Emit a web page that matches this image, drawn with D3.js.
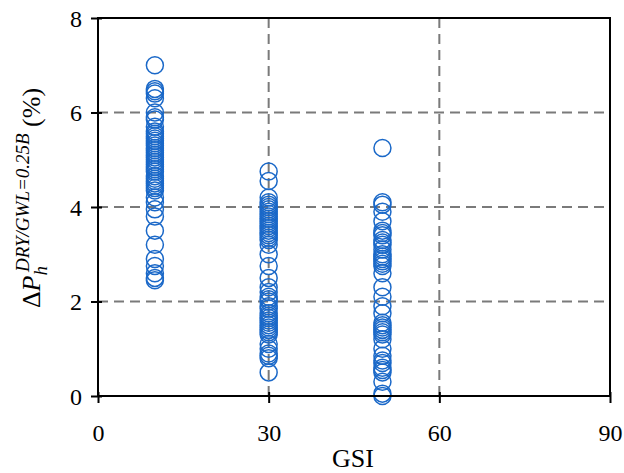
<!DOCTYPE html>
<html><head><meta charset="utf-8">
<script src="https://cdn.jsdelivr.net/npm/d3@7"></script>
<style>body{margin:0;background:#fff}svg{display:block}</style>
</head><body>
<svg id="c" width="624" height="473"></svg>
<script>
const xTicks = [0, 30, 60, 90];
const yTicks = [0, 2, 4, 6, 8];
const gsi10 = [7.0, 6.5, 6.45, 6.4, 6.3, 6.0, 5.9, 5.85, 5.7, 5.6, 5.55, 5.5, 5.45, 5.4, 5.35, 5.3, 5.25, 5.2, 5.15, 5.1, 5.05, 5.0, 4.95, 4.9, 4.85, 4.8, 4.75, 4.65, 4.6, 4.55, 4.5, 4.45, 4.4, 4.35, 4.2, 4.1, 3.95, 3.8, 3.5, 3.2, 2.9, 2.75, 2.6, 2.5, 2.45];
const gsi30 = [4.75, 4.55, 4.2, 4.1, 4.05, 4.0, 3.95, 3.9, 3.85, 3.8, 3.75, 3.7, 3.65, 3.6, 3.55, 3.5, 3.45, 3.4, 3.35, 3.3, 3.2, 3.0, 2.75, 2.5, 2.3, 2.2, 2.1, 2.05, 2.0, 1.9, 1.85, 1.75, 1.7, 1.65, 1.6, 1.55, 1.5, 1.45, 1.4, 1.35, 1.3, 1.1, 1.0, 0.9, 0.85, 0.8, 0.5];
const gsi50 = [5.25, 4.1, 4.05, 3.9, 3.7, 3.5, 3.45, 3.4, 3.3, 3.25, 3.2, 3.1, 3.0, 2.95, 2.9, 2.85, 2.8, 2.75, 2.6, 2.3, 2.1, 1.9, 1.75, 1.55, 1.5, 1.45, 1.4, 1.35, 1.3, 1.2, 1.0, 0.85, 0.75, 0.7, 0.6, 0.55, 0.5, 0.3, 0.05, 0.0];
const groups = [{gsi: 10, vals: gsi10}, {gsi: 30, vals: gsi30}, {gsi: 50, vals: gsi50}];

const svg = d3.select("#c");
const L = 98, R = 610, T = 18, B = 396;
const x = d3.scaleLinear().domain([0, 90]).range([L, R]);
const y = d3.scaleLinear().domain([0, 8]).range([B, T]);
const serif = "'Liberation Serif','Times New Roman',serif";

// grid
const g = svg.append("g");
g.selectAll("line.h").data(yTicks.filter(d => d > 0 && d < 8)).enter().append("line")
  .attr("x1", L).attr("x2", R).attr("y1", d => y(d)).attr("y2", d => y(d))
  .attr("stroke", "#7a7a7a").attr("stroke-width", 2).attr("stroke-dasharray", "10,6");
g.selectAll("line.v").data(xTicks.filter(d => d > 0 && d < 90)).enter().append("line")
  .attr("y1", T).attr("y2", B).attr("x1", d => x(d)).attr("x2", d => x(d))
  .attr("stroke", "#7a7a7a").attr("stroke-width", 2).attr("stroke-dasharray", "10,6");

// points
const pts = groups.flatMap(gr => gr.vals.map(v => ({gsi: gr.gsi, v})));
svg.append("g").selectAll("circle").data(pts).enter().append("circle")
  .attr("cx", d => x(d.gsi)).attr("cy", d => y(d.v)).attr("r", 8.5)
  .attr("fill", "none").attr("stroke", "#1a68c8").attr("stroke-width", 1.5);

// frame
svg.append("rect").attr("x", L).attr("y", T).attr("width", R - L).attr("height", B - T)
  .attr("fill", "none").attr("stroke", "#000").attr("stroke-width", 2);

// axes
const xa = svg.append("g").attr("transform", `translate(0,${B})`)
  .call(d3.axisBottom(x).tickValues(xTicks).tickSize(7).tickSizeOuter(0));
const ya = svg.append("g").attr("transform", `translate(${L},0)`)
  .call(d3.axisLeft(y).tickValues(yTicks).tickSize(7).tickSizeOuter(0));
[xa, ya].forEach(a => {
  a.select(".domain").remove();
  a.selectAll("line").attr("stroke", "#000").attr("stroke-width", 2);
  a.selectAll("text").attr("font-family", serif).attr("font-size", 24).attr("fill", "#000");
});
xa.selectAll(".tick line").attr("y1", -4);
ya.selectAll(".tick line").attr("x1", 4);
xa.selectAll("text").attr("dy", 0).attr("y", 45);
ya.selectAll("text").attr("x", -16).attr("dy", "0.35em");

// x title
svg.append("text").attr("x", (L + R) / 2 - 1).attr("y", 467).attr("text-anchor", "middle")
  .attr("font-family", serif).attr("font-size", 26).text("GSI");

// y title
const yt = svg.append("text").attr("transform", "translate(40,198) rotate(-90)")
  .attr("text-anchor", "middle").attr("font-family", serif).attr("font-size", 26);
yt.append("tspan").text("Δ");
yt.append("tspan").attr("font-style", "italic").text("P");
yt.append("tspan").attr("font-style", "italic").attr("font-size", 19).attr("dy", 7).text("h");
yt.append("tspan").attr("font-style", "italic").attr("font-size", 19).attr("dx", -6).attr("dy", -18).text("DRY/GWL=0.25B");
yt.append("tspan").attr("dy", 11).text(" (%)");
</script>
</body></html>
